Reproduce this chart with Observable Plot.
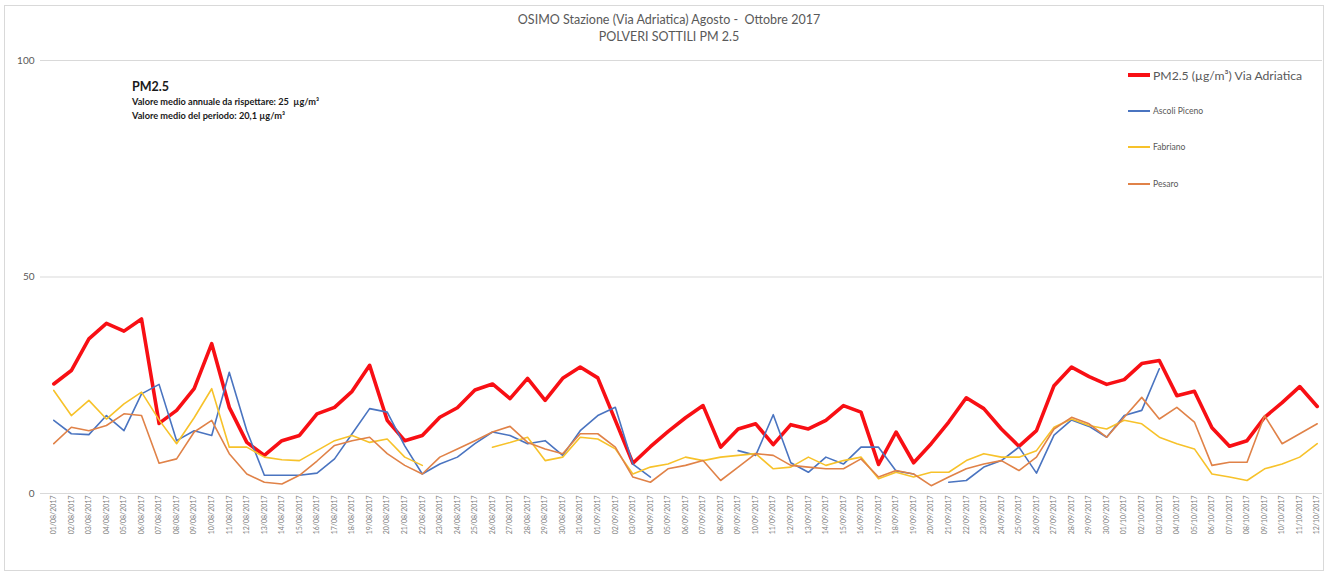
<!DOCTYPE html>
<html>
<head>
<meta charset="utf-8">
<script src="https://cdn.jsdelivr.net/npm/d3@7"></script>
<script src="https://cdn.jsdelivr.net/npm/@observablehq/plot@0.6"></script>
<style>
  html, body { margin: 0; padding: 0; background: #fff; }
  #wrap { position: relative; width: 1338px; height: 573px; overflow: hidden; font-family: Lato, "Liberation Sans", sans-serif; }
  #frame { position: absolute; left: 4px; top: 5px; width: 1318px; height: 564px; border: 1px solid #d9d9d9; pointer-events: none; }
  .t { position: absolute; white-space: nowrap; color: #595959; }
  .leg { position: absolute; display: flex; align-items: center; white-space: nowrap; color: #595959; }
  .leg span.sw { display: inline-block; width: 22px; margin-right: 3px; }
</style>
</head>
<body>
<div id="wrap">
  <div id="frame"></div>
</div>
<script>
const dates = [
  "01/08/2017","02/08/2017","03/08/2017","04/08/2017","05/08/2017","06/08/2017","07/08/2017","08/08/2017","09/08/2017","10/08/2017",
  "11/08/2017","12/08/2017","13/08/2017","14/08/2017","15/08/2017","16/08/2017","17/08/2017","18/08/2017","19/08/2017","20/08/2017",
  "21/08/2017","22/08/2017","23/08/2017","24/08/2017","25/08/2017","26/08/2017","27/08/2017","28/08/2017","29/08/2017","30/08/2017",
  "31/08/2017","01/09/2017","02/09/2017","03/09/2017","04/09/2017","05/09/2017","06/09/2017","07/09/2017","08/09/2017","09/09/2017",
  "10/09/2017","11/09/2017","12/09/2017","13/09/2017","14/09/2017","15/09/2017","16/09/2017","17/09/2017","18/09/2017","19/09/2017",
  "20/09/2017","21/09/2017","22/09/2017","23/09/2017","24/09/2017","25/09/2017","26/09/2017","27/09/2017","28/09/2017","29/09/2017",
  "30/09/2017","01/10/2017","02/10/2017","03/10/2017","04/10/2017","05/10/2017","06/10/2017","07/10/2017","08/10/2017","09/10/2017",
  "10/10/2017","11/10/2017","12/10/2017"
];

const viaAdriatica = [
  25.3,28.4,35.7,39.3,37.5,40.3,16.2,19.2,24.2,34.6,
  19.9,11.8,8.8,12.2,13.4,18.4,19.9,23.6,29.6,16.9,
  12.2,13.4,17.6,19.8,23.9,25.3,21.9,26.6,21.5,26.6,
  29.2,26.7,16.9,7.0,10.8,14.3,17.5,20.3,10.7,14.9,
  16.1,11.3,15.9,14.9,16.9,20.3,18.8,6.7,14.2,7.1,
  11.5,16.5,22.1,19.6,14.9,10.9,14.5,24.9,29.2,27.0,
  25.2,26.3,30.0,30.7,22.6,23.6,15.2,10.9,12.2,17.6,
  21.0,24.7,20.1
];

const ascoliPiceno = [
  16.9,13.8,13.6,18.0,14.5,23.0,25.2,12.2,14.5,13.4,
  28.0,14.5,4.2,4.2,4.2,4.7,8.0,13.8,19.6,18.8,
  11.0,4.5,6.8,8.4,11.5,14.2,13.4,11.5,12.2,8.8,
  14.5,18.0,19.9,6.8,3.8,null,null,null,null,9.9,
  8.8,18.2,7.1,4.9,8.4,6.8,10.7,10.7,5.2,4.5,
  null,2.6,3.0,6.1,7.6,10.7,4.7,13.5,17.0,15.5,
  13.0,18.0,19.2,28.8,null,null,null,null,null,null,
  null,null,null
];

const fabriano = [
  23.8,18.0,21.5,17.2,20.7,23.4,17.0,11.5,17.5,24.2,
  10.7,10.7,8.4,7.8,7.6,9.9,12.2,13.4,11.8,12.6,
  8.4,6.5,null,null,null,10.7,11.8,13.0,7.6,8.4,
  13.0,12.6,10.3,4.5,6.1,6.8,8.4,7.6,8.4,8.8,
  9.2,5.7,6.1,8.4,6.5,7.6,8.4,3.4,4.9,3.8,
  4.9,4.9,7.6,9.2,8.4,8.4,9.9,15.3,17.2,15.7,
  14.9,16.9,16.1,13.0,11.5,10.3,4.5,3.8,3.0,5.7,
  6.8,8.4,11.5
];

const pesaro = [
  11.5,15.3,14.5,15.7,18.4,18.0,7.0,8.0,14.2,16.9,
  9.2,4.5,2.6,2.2,4.2,7.5,11.1,12.2,13.0,9.2,
  6.5,4.5,8.4,10.3,12.2,14.2,15.5,11.8,10.3,9.2,
  13.8,13.8,10.7,3.8,2.6,5.7,6.5,7.6,3.0,6.1,
  9.2,8.8,6.5,6.1,5.7,5.7,8.0,3.8,5.3,4.5,
  1.8,3.8,5.7,6.8,7.6,5.3,8.4,14.9,17.6,16.1,
  13.0,17.6,22.2,17.2,19.9,16.5,6.5,7.2,7.2,18.0,
  11.5,13.8,16.1
];

const seriesNames = ["PM2.5 (µg/m³) Via Adriatica", "Ascoli Piceno", "Fabriano", "Pesaro"];
const seriesColors = ["#f80f14", "#4a74c0", "#f7c22a", "#e08248"];
const yTicks = [0, 50, 100];

const indices = d3.range(dates.length);
const toRows = (vals) => vals.map((v, i) => ({i, v}));

const chart = Plot.plot({
  width: 1338,
  height: 573,
  marginTop: 60,
  marginBottom: 80,
  marginLeft: 40,
  marginRight: 16,
  style: {fontFamily: "Lato, 'Liberation Sans', sans-serif", color: "#595959", background: "transparent"},
  x: {type: "linear", domain: [-0.757, 72.3]},
  y: {domain: [0, 100]},
  marks: [
    Plot.gridY(yTicks, {stroke: "#d9d9d9", strokeOpacity: 1, strokeWidth: 1}),
    Plot.axisY(yTicks, {tickSize: 0, tickPadding: 6, fontSize: 10, fill: "#595959", label: null}),
    Plot.axisX(indices, {tickSize: 0, tickPadding: 2, tickRotate: -90, fontSize: 7, fill: "#808080", tickFormat: i => dates[i], label: null}),
    Plot.line(toRows(viaAdriatica), {x: "i", y: "v", stroke: seriesColors[0], strokeWidth: 3.6, strokeLinejoin: "round"}),
    Plot.line(toRows(ascoliPiceno), {x: "i", y: "v", stroke: seriesColors[1], strokeWidth: 1.6}),
    Plot.line(toRows(fabriano), {x: "i", y: "v", stroke: seriesColors[2], strokeWidth: 1.6}),
    Plot.line(toRows(pesaro), {x: "i", y: "v", stroke: seriesColors[3], strokeWidth: 1.6})
  ]
});

const wrap = document.getElementById("wrap");
wrap.insertBefore(chart, wrap.firstChild);

function addText(txt, left, top, css) {
  const d = document.createElement("div");
  d.className = "t";
  d.textContent = txt;
  d.style.left = left + "px";
  d.style.top = top + "px";
  Object.assign(d.style, css || {});
  wrap.appendChild(d);
  return d;
}

// Title
addText("OSIMO Stazione (Via Adriatica) Agosto -  Ottobre 2017", 0, 12, {width: "1338px", textAlign: "center", fontSize: "12.5px", whiteSpace: "pre"});
addText("POLVERI SOTTILI PM 2.5", 0, 29, {width: "1338px", textAlign: "center", fontSize: "12.5px"});

// Annotation
const narrow = "'Liberation Sans Narrow', 'Arial Narrow', Lato, sans-serif";
addText("PM2.5", 132, 79, {fontSize: "12.5px", fontWeight: "bold", color: "#1a1a1a"});
addText("Valore medio annuale da rispettare: 25  µg/m³", 132, 96, {fontSize: "9.2px", fontWeight: "bold", color: "#1a1a1a", whiteSpace: "pre", fontFamily: narrow});
addText("Valore medio del periodo: 20,1 µg/m³", 132, 110, {fontSize: "9.2px", fontWeight: "bold", color: "#1a1a1a", fontFamily: narrow});

// Legend
const legTops = [68, 104, 140, 177];
const legSizes = [12.2, 8.6, 8.6, 8.6];
const legWidths = [4, 2, 2, 2];
seriesNames.forEach((name, k) => {
  const d = document.createElement("div");
  d.className = "leg";
  d.style.left = "1128px";
  d.style.top = legTops[k] + "px";
  d.style.height = "14px";
  d.style.fontSize = legSizes[k] + "px";
  const sw = document.createElement("span");
  sw.className = "sw";
  sw.style.height = legWidths[k] + "px";
  sw.style.background = seriesColors[k];
  const tx = document.createElement("span");
  tx.textContent = name;
  d.appendChild(sw);
  d.appendChild(tx);
  wrap.appendChild(d);
});
chart.style.position = "absolute";
chart.style.left = "0px";
chart.style.top = "0px";
</script>
</body>
</html>
